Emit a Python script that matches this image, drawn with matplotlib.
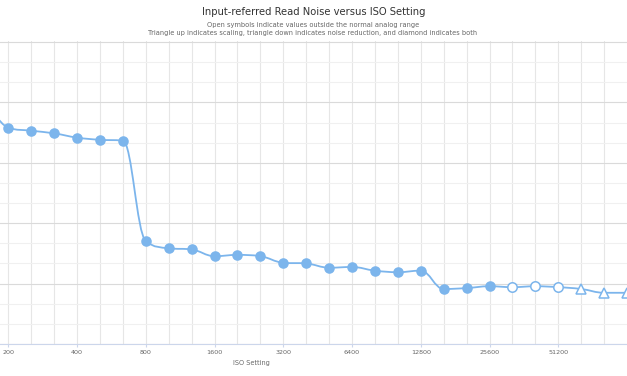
import numpy as np
import matplotlib
matplotlib.use("Agg")
import matplotlib.pyplot as plt
from matplotlib.path import Path
from matplotlib.patches import PathPatch
from matplotlib.ticker import FixedLocator, NullFormatter

# data, read noise in electrons
iso = [160, 200, 250, 320, 400, 500, 640, 800, 1000, 1250, 1600, 2000, 2500,
       3200, 4000, 5000, 6400, 8000, 10000, 12800, 16000, 20000, 25600,
       32000, 40000, 51200, 64000, 80000, 102400]
noise = [8.3, 5.98, 5.78, 5.61, 5.34, 5.21, 5.16, 1.63, 1.50, 1.48, 1.37, 1.39,
         1.37, 1.27, 1.26, 1.20, 1.21, 1.16, 1.14, 1.16, 0.94, 0.95, 0.97,
         0.96, 0.97, 0.96, 0.94, 0.90, 0.90]
# 'full' = normal analog range, 'open' = outside it, 'up' = scaling
symbol = ['full'] * 23 + ['open'] * 3 + ['up'] * 3

iso_ticks = [200, 400, 800, 1600, 3200, 6400, 12800, 25600, 51200, 102400]
noise_ticks = [0.5, 1, 2, 4, 8, 16]

title = "Input-referred Read Noise versus ISO Setting"
subtitle1 = "Open symbols indicate values outside the normal analog range"
subtitle2 = ("Triangle up indicates scaling, triangle down indicates noise "
             "reduction, and diamond indicates both")

blue = '#7cb5ec'


def spline_path(xs, ys, smoothing=1.5):
    # same control points as a highcharts 'spline' series
    n = len(xs)
    left = [(x, y) for x, y in zip(xs, ys)]
    right = [(x, y) for x, y in zip(xs, ys)]
    denom = smoothing + 1
    for i in range(1, n - 1):
        px, py = xs[i], ys[i]
        lx, ly = xs[i - 1], ys[i - 1]
        nx, ny = xs[i + 1], ys[i + 1]
        lcx = (smoothing * px + lx) / denom
        lcy = (smoothing * py + ly) / denom
        rcx = (smoothing * px + nx) / denom
        rcy = (smoothing * py + ny) / denom
        corr = 0
        if rcx != lcx:
            corr = (rcy - lcy) * (rcx - px) / (rcx - lcx) + py - rcy
        lcy += corr
        rcy += corr
        if lcy > ly and lcy > py:
            lcy = max(ly, py)
            rcy = 2 * py - lcy
        elif lcy < ly and lcy < py:
            lcy = min(ly, py)
            rcy = 2 * py - lcy
        if rcy > ny and rcy > py:
            rcy = max(ny, py)
            lcy = 2 * py - rcy
        elif rcy < ny and rcy < py:
            rcy = min(ny, py)
            lcy = 2 * py - rcy
        left[i] = (lcx, lcy)
        right[i] = (rcx, rcy)
    verts = [(xs[0], ys[0])]
    codes = [Path.MOVETO]
    for i in range(1, n):
        verts += [right[i - 1], left[i], (xs[i], ys[i])]
        codes += [Path.CURVE4] * 3
    return np.array(verts), codes


W, H = 627, 376
fig = plt.figure(figsize=(W / 100, H / 100), dpi=100)
top_px, bot_px = 41, 344
ax = fig.add_axes([0, 1 - bot_px / H, 1, (bot_px - top_px) / H])

ax.set_xscale('log', base=2)
ax.set_yscale('log', base=2)

px_per_stop_x = 68.75
ax.set_xlim(200 * 2 ** (-8.3 / px_per_stop_x), 200 * 2 ** ((W - 8.3) / px_per_stop_x))
px_per_stop_y = 60.4
ax.set_ylim(0.5, 16 * 2 ** (1 / px_per_stop_y))

# nominal ISO values sit on exact 1/3 stop positions
stops = np.round(3 * np.log2(np.array(iso) / 100.0)) / 3
x = 100 * 2 ** stops
y = np.array(noise)

verts, codes = spline_path(list(np.log2(x)), list(np.log2(y)))
path = Path(2.0 ** verts, codes)
ax.add_patch(PathPatch(path, facecolor='none', edgecolor=blue, lw=1.3, zorder=2))

symbol = np.array(symbol)
ms = 7.6
m = symbol == 'full'
ax.plot(x[m], y[m], 'o', ms=ms, color=blue, mec=blue, mew=0, zorder=3)
m = symbol == 'open'
ax.plot(x[m], y[m], 'o', ms=ms - 0.8, mfc='white', mec=blue, mew=1.1, zorder=3)
m = symbol == 'up'
ax.plot(x[m], y[m], '^', ms=ms - 0.6, mfc='white', mec=blue, mew=1.1, zorder=3)

# grid
ax.xaxis.set_major_locator(FixedLocator(iso_ticks))
ax.xaxis.set_minor_locator(FixedLocator([100 * 2 ** (k / 3) for k in range(40)]))
ax.set_xticklabels([str(t) for t in iso_ticks])
ax.xaxis.set_minor_formatter(NullFormatter())
ax.yaxis.set_major_locator(FixedLocator(noise_ticks))
ax.yaxis.set_minor_locator(FixedLocator([0.5 * 2 ** (k / 3) for k in range(16)]))
ax.yaxis.set_major_formatter(NullFormatter())
ax.yaxis.set_minor_formatter(NullFormatter())

ax.grid(True, which='both', axis='x', color='#e6e6e6', lw=0.8)
ax.grid(True, which='major', axis='y', color='#dadada', lw=0.8)
ax.grid(True, which='minor', axis='y', color='#f0f0f0', lw=0.8)
ax.set_axisbelow(True)

for s in ['top', 'left', 'right']:
    ax.spines[s].set_visible(False)
ax.spines['bottom'].set_color('#ccd6eb')
ax.spines['bottom'].set_linewidth(0.8)

ax.tick_params(axis='x', which='major', length=2, color='#ccd6eb', pad=2,
               labelsize=4.6, labelcolor='#666666')
ax.tick_params(axis='x', which='minor', length=0)
ax.tick_params(axis='y', which='both', length=0)

ax.set_xlabel('ISO Setting', fontsize=4.7, color='#666666')
ax.xaxis.set_label_coords(251.7 / W, (bot_px - 363.3) / (bot_px - top_px))
ax.xaxis.label.set_verticalalignment('center')

fig.text(314 / W, 1 - 12 / H, title, ha='center', va='center',
         fontsize=7.2, color='#333333')
fig.text(313 / W, 1 - 24.5 / H, subtitle1, ha='center', va='center',
         fontsize=4.75, color='#666666')
fig.text(313 / W, 1 - 33.5 / H, subtitle2, ha='center', va='center',
         fontsize=4.8, color='#666666')

fig.savefig('out.png', dpi=100)
